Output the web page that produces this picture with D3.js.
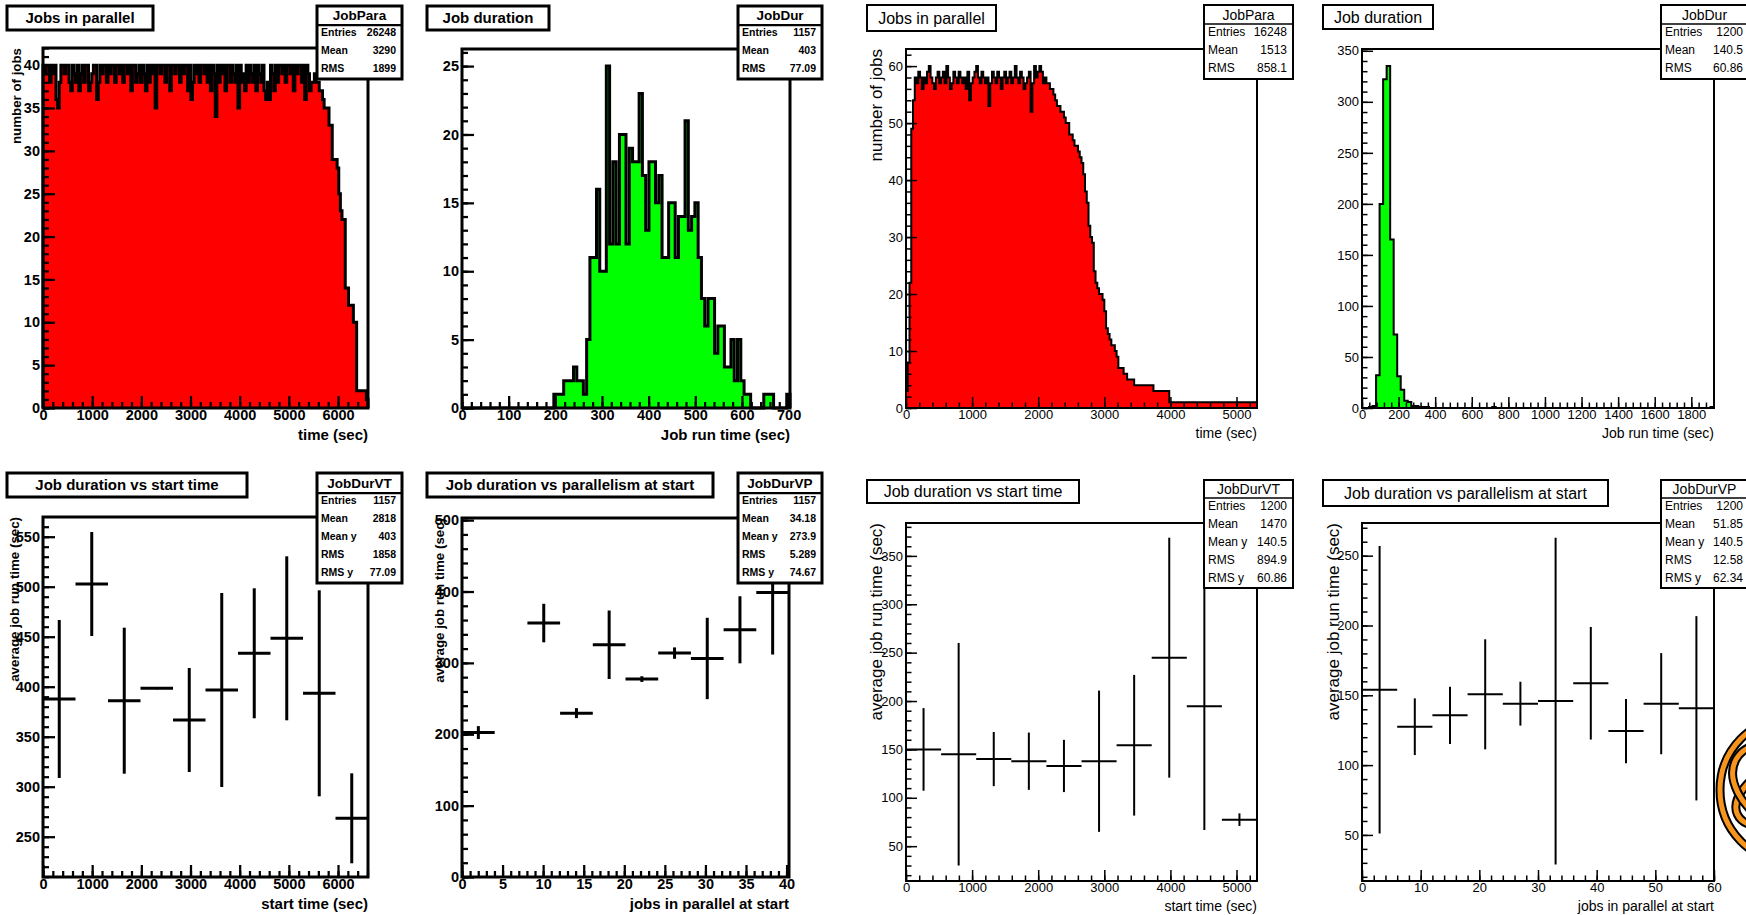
<!DOCTYPE html>
<html>
<head>
<meta charset="utf-8">
<script src="https://cdnjs.cloudflare.com/ajax/libs/d3/7.8.5/d3.min.js"></script>
<style>
body{margin:0;background:#fff;}
svg{display:block;}
</style>
</head>
<body>
<svg id="canvas" width="1746" height="915"></svg>
<script>
// ---- left canvas (old run) ----
const leftParaCounts = [
 40,39,40,40,38,40,39,40,36,35, 38,40,40,39,40,40,38,37,40,39,
 38,40,37,39,40,38,40,40,37,38, 39,40,40,36,38,40,39,40,40,38,
 40,39,40,40,38,40,40,39,40,38, 40,40,39,40,37,40,40,38,39,40,
 38,40,39,37,40,38,40,39,40,35, 40,40,39,40,40,38,40,40,37,40,
 40,39,40,40,38,40,39,40,40,37, 40,36,38,40,39,40,38,40,40,39,
 40,38,40,37,40,39,34,40,38,40, 39,40,37,40,40,38,40,39,38,40,
 35,40,38,39,37,40,38,40,39,38, 40,37,40,39,38,40,37,36,38,36,
 40,39,37,40,38,40,40,39,40,38, 40,40,39,40,37,40,39,40,40,38,
 40,36,40,39,37,38,38,39,38,38, 37,37,36,35,35,35,33,33,29,29,
 29,28,25,23,22,22,14,14,12,12, 12,10,10,2,2,2,2,2,2,1
];
const leftDurCounts = [
 0,0,0,0,0,0,0,0,0,0, 0,0,0,0,0,0,0,0,0,0,
 0,0,0,0,0,0,0,0,1,1, 1,2,2,2,3,2,2,1,5,11,
 11,16,10,10,25,12,18,12,20,20, 12,19,18,18,23,17,13,18,18,15,
 17,11,11,15,15,11,14,14,21,13, 14,15,11,8,6,8,8,4,6,6,
 3,3,5,2,5,2,1,1,0,0, 0,0,1,1,1,0,0,0,0,1
];
const leftVTMeans = [387.7, 502.7, 386, 398.4, 366.7, 396.7, 433.4, 448.4, 393.4, 268.4];
const leftVTErrs  = [79, 52, 73, 1, 52, 97, 65, 82, 103, 45];
const leftVPMeans = [202.4, null, 355.8, 229.6, 325.4, 277.3, 313.7, 306.2, 346.4, 398.7];
const leftVPErrs  = [9, null, 27, 7, 48, 4, 8, 57, 47, 87];

// ---- right canvas (new run) ----
const rightParaCounts = [
 3,8,22,49,54,58,57,59,58,56, 58,57,59,60,58,57,56,58,59,57,
 58,59,57,60,58,56,57,59,58,57, 59,58,57,58,56,59,54,57,58,59,
 60,58,57,59,58,57,58,53,57,59, 58,57,59,58,56,58,59,57,58,59,
 57,58,60,58,57,59,58,56,57,58, 59,52,57,60,58,59,60,59,57,58,
 57,57,56,56,55,54,53,53,52,52, 51,50,50,48,48,47,46,46,45,44,
 43,41,38,36,32,30,29,24,22,21, 20,20,19,17,14,13,12,11,11,10,
 9,7,7,7,6,6,5,5,5,5, 4,4,4,4,4,4,4,4,4,4,
 4,3,3,3,3,3,3,3,3,3, 1,1,1,1,1,1,1,1,1,1,
 1,1,1,1,1,1,1,1,1,1, 1,1,1,1,1,1,1,1,1,1,
 1,1,1,1,1,1,1,1,1,1, 1,1,1,1,1,1,1,1,1,1
];
const rightDurCounts = [
 0,0,1,2,32,200,322,335,165,72, 31,18,7,6,2,2,1,1,1,0,
 0,0,0,0,0,0,0,0,0,0, 0,0,0,0,0,0,0,1,0,0,
 0,0,0,0,0,0,0,0,0,0, 0,0,0,0,0,0,0,0,0,0,
 0,0,0,0,0,0,0,0,0,0, 0,0,0,0,0,0,0,0,0,0,
 0,0,0,0,0,0,0,0,0,0, 0,0,0,0,0,0,0,0,0,1
];
const rightVTMeans = [150, 145, 140, 137.8, 132.9, 137.8, 154.3, 244.8, 194.7, 77.4];
const rightVTErrs  = [42.7, 115, 28, 29.6, 27, 73, 72.7, 124, 128, 6.5];
const rightVPMeans = [154, 127.5, 135.7, 150.7, 144, 145.9, 158.6, 124.4, 144, 140.7];
const rightVPErrs  = [103, 20.3, 20.5, 39.4, 15.7, 117, 40.3, 23, 36.2, 66];

// ---- stats boxes ----
const histStatNames = ["Entries", "Mean", "RMS"];
const profStatNames = ["Entries", "Mean", "Mean y", "RMS", "RMS y"];
const leftParaStats  = ["26248", "3290", "1899"];
const leftDurStats   = ["1157", "403", "77.09"];
const leftVTStats    = ["1157", "2818", "403", "1858", "77.09"];
const leftVPStats    = ["1157", "34.18", "273.9", "5.289", "74.67"];
const rightParaStats = ["16248", "1513", "858.1"];
const rightDurStats  = ["1200", "140.5", "60.86"];
const rightVTStats   = ["1200", "1470", "140.5", "894.9", "60.86"];
const rightVPStats   = ["1200", "51.85", "140.5", "12.58", "62.34"];

const FONT = '"Liberation Sans", Arial, Helvetica, sans-serif';
const OLD = {weight:'bold', lw:3, hlw:3, tick:12, tickFont:14.5, titleFont:15, xtFont:15, ytFont:13.3, statFont:10.5, headFont:13.5, xtGap:32, ebw:3};
const NEW = {weight:'normal', lw:2, hlw:2, tick:11, tickFont:13, titleFont:16, xtFont:14, ytFont:17, statFont:12, headFont:14, xtGap:30, ebw:2};

var svg = d3.select('#canvas');
svg.append('rect').attr('width',1746).attr('height',915).attr('fill','#fff');

var makePanel = function(cfg){
    var f = cfg.frame;
    var st = cfg.old ? OLD : NEW;
    var x = d3.scaleLinear().domain(cfg.xDomain).range([f[0], f[2]]);
    var y = d3.scaleLinear().domain(cfg.yDomain).range([f[3], f[1]]);
    var g = svg.append('g');
    var plot = g.append('g');
    return {cfg:cfg, st:st, x:x, y:y, g:g, plot:plot};
};

var ticksFor = function(domain, step){
    var start = Math.ceil(domain[0]/step - 1e-9)*step;
    return d3.range(start, domain[1] + step*1e-6, step);
};

var drawAxes = function(p){
    var c = p.cfg, st = p.st, f = c.frame;
    var style = function(sel){
        sel.attr('font-family', FONT).attr('font-size', st.tickFont)
           .attr('font-weight', st.weight).attr('color', '#000');
        sel.select('.domain').remove();
        sel.selectAll('line').attr('stroke-width', st.lw*0.75);
    };
    p.g.append('g').attr('transform', 'translate(0,'+f[3]+')')
        .call(d3.axisBottom(p.x).tickValues(ticksFor(c.xDomain, c.xMinor)).tickSize(-st.tick/2).tickFormat(''))
        .call(style);
    p.g.append('g').attr('transform', 'translate(0,'+f[3]+')')
        .call(d3.axisBottom(p.x).tickValues(ticksFor(c.xDomain, c.xMajor)).tickSize(-st.tick).tickPadding(2).tickFormat(d3.format('d')))
        .call(style);
    p.g.append('g').attr('transform', 'translate('+f[0]+',0)')
        .call(d3.axisLeft(p.y).tickValues(ticksFor(c.yDomain, c.yMinor)).tickSize(-st.tick/2).tickFormat(''))
        .call(style);
    p.g.append('g').attr('transform', 'translate('+f[0]+',0)')
        .call(d3.axisLeft(p.y).tickValues(ticksFor(c.yDomain, c.yMajor)).tickSize(-st.tick).tickPadding(3).tickFormat(d3.format('d')))
        .call(style);
    // frame
    p.g.append('rect')
        .attr('x', f[0]).attr('y', f[1]).attr('width', f[2]-f[0]).attr('height', f[3]-f[1])
        .attr('fill', 'none').attr('stroke', '#000').attr('stroke-width', st.lw);
    // axis titles
    p.g.append('text')
        .attr('x', f[2]).attr('y', f[3]+st.xtGap)
        .attr('text-anchor', 'end').attr('font-family', FONT)
        .attr('font-size', st.xtFont).attr('font-weight', st.weight)
        .text(c.xTitle);
    if(c.yTitle){
        p.g.append('text')
            .attr('transform', 'translate('+c.yTitleX+','+f[1]+') rotate(-90)')
            .attr('text-anchor', 'end').attr('font-family', FONT)
            .attr('font-size', st.ytFont).attr('font-weight', st.weight)
            .text(c.yTitle);
    }
};

var drawBoxes = function(p){
    var c = p.cfg, st = p.st;
    var tb = c.titleBox;
    p.g.append('rect').attr('x', tb[0]).attr('y', tb[1]).attr('width', tb[2]-tb[0]).attr('height', tb[3]-tb[1])
        .attr('fill', '#fff').attr('stroke', '#000').attr('stroke-width', st.lw);
    p.g.append('text')
        .attr('x', (tb[0]+tb[2])/2).attr('y', (tb[1]+tb[3])/2)
        .attr('dy', '0.36em').attr('text-anchor', 'middle')
        .attr('font-family', FONT).attr('font-size', st.titleFont).attr('font-weight', st.weight)
        .text(c.title);
    var sb = c.statBox, hl = c.statHead;
    p.g.append('rect').attr('x', sb[0]).attr('y', sb[1]).attr('width', sb[2]-sb[0]).attr('height', sb[3]-sb[1])
        .attr('fill', '#fff').attr('stroke', '#000').attr('stroke-width', st.lw);
    p.g.append('line').attr('x1', sb[0]).attr('x2', sb[2]).attr('y1', hl).attr('y2', hl)
        .attr('stroke', '#000').attr('stroke-width', st.lw*0.75);
    p.g.append('text')
        .attr('x', (sb[0]+Math.min(sb[2],1746))/2 + (sb[2] > 1746 ? 1 : 0)).attr('y', (sb[1]+hl)/2)
        .attr('dy', '0.36em').attr('text-anchor', 'middle')
        .attr('font-family', FONT).attr('font-size', st.headFont).attr('font-weight', st.weight)
        .text(c.statName);
    var n = c.statLabels.length;
    var rowH = (sb[3]-hl)/n;
    c.statLabels.forEach(function(lab, i){
        var cy = hl + (i+0.4)*rowH;
        p.g.append('text').attr('x', sb[0]+4).attr('y', cy).attr('dy', '0.36em')
            .attr('font-family', FONT).attr('font-size', st.statFont).attr('font-weight', st.weight)
            .text(lab);
        p.g.append('text').attr('x', Math.min(sb[2], 1749)-6).attr('y', cy).attr('dy', '0.36em')
            .attr('text-anchor', 'end')
            .attr('font-family', FONT).attr('font-size', st.statFont).attr('font-weight', st.weight)
            .text(c.statValues[i]);
    });
};

var drawHisto = function(p, counts, fill){
    var d = p.cfg.xDomain, n = counts.length, w = (d[1]-d[0])/n;
    var pts = [[d[0], 0]];
    counts.forEach(function(v, i){
        pts.push([d[0]+i*w, v]);
        pts.push([d[0]+(i+1)*w, v]);
    });
    pts.push([d[1], 0]);
    var line = d3.line().x(function(q){return p.x(q[0]);}).y(function(q){return p.y(q[1]);});
    p.plot.append('path').attr('d', line(pts)+'Z').attr('fill', fill).attr('stroke', 'none');
    p.plot.append('path').attr('d', line(pts)).attr('fill', 'none')
        .attr('stroke', '#000').attr('stroke-width', p.st.hlw).attr('stroke-linejoin', 'miter');
};

var drawProfile = function(p, means, errs){
    var d = p.cfg.xDomain, n = means.length, w = (d[1]-d[0])/n;
    means.forEach(function(m, i){
        if(m === null) return;
        var lo = d[0]+i*w, hi = lo+w, mid = lo+w/2;
        var yd = p.y.domain();
        p.plot.append('line')
            .attr('x1', p.x(lo)).attr('x2', p.x(hi)).attr('y1', p.y(m)).attr('y2', p.y(m))
            .attr('stroke', '#000').attr('stroke-width', p.st.ebw);
        p.plot.append('line')
            .attr('x1', p.x(mid)).attr('x2', p.x(mid))
            .attr('y1', p.y(Math.max(yd[0], m-errs[i]))).attr('y2', p.y(Math.min(yd[1], m+errs[i])))
            .attr('stroke', '#000').attr('stroke-width', p.st.ebw);
    });
};

var panels = [
  {old:true, frame:[43,48,368,408], xDomain:[0,6610], yDomain:[0,42], xMajor:1000, xMinor:200, yMajor:5, yMinor:1,
   title:"Jobs in parallel", titleBox:[7,6,153,30], statBox:[317,6,402,79], statHead:25, statName:"JobPara",
   statLabels:histStatNames, statValues:leftParaStats, xTitle:"time (sec)", yTitle:"number of jobs", yTitleX:21,
   kind:'histo', counts:leftParaCounts, fill:'#ff0000'},
  {old:true, frame:[462,49,790,408], xDomain:[0,703], yDomain:[0,26.25], xMajor:100, xMinor:20, yMajor:5, yMinor:1,
   title:"Job duration", titleBox:[427,6,549,30], statBox:[738,6,822,79], statHead:25, statName:"JobDur",
   statLabels:histStatNames, statValues:leftDurStats, xTitle:"Job run time (sec)", yTitle:null,
   kind:'histo', counts:leftDurCounts, fill:'#00ff00'},
  {old:false, frame:[906,49,1257,408], xDomain:[0,5310], yDomain:[0,63], xMajor:1000, xMinor:200, yMajor:10, yMinor:2,
   title:"Jobs in parallel", titleBox:[867,5,996,31], statBox:[1204,5,1293,79], statHead:24, statName:"JobPara",
   statLabels:histStatNames, statValues:rightParaStats, xTitle:"time (sec)", yTitle:"number of jobs", yTitleX:882,
   kind:'histo', counts:rightParaCounts, fill:'#ff0000'},
  {old:false, frame:[1362,49,1714,408], xDomain:[0,1924], yDomain:[0,351.75], xMajor:200, xMinor:40, yMajor:50, yMinor:10,
   title:"Job duration", titleBox:[1323,5,1433,29], statBox:[1661,5,1749,79], statHead:24, statName:"JobDur",
   statLabels:histStatNames, statValues:rightDurStats, xTitle:"Job run time (sec)", yTitle:null,
   kind:'histo', counts:rightDurCounts, fill:'#00ff00'},
  {old:true, frame:[43,517,368,877], xDomain:[0,6610], yDomain:[209.7,569.7], xMajor:1000, xMinor:200, yMajor:50, yMinor:10,
   title:"Job duration vs start time", titleBox:[7,473,247,497], statBox:[317,473,402,583], statHead:493, statName:"JobDurVT",
   statLabels:profStatNames, statValues:leftVTStats, xTitle:"start time (sec)", yTitle:"average job run time (sec)", yTitleX:19,
   kind:'prof', means:leftVTMeans, errs:leftVTErrs},
  {old:true, frame:[462,518,789,877], xDomain:[0,40.3], yDomain:[0,503], xMajor:5, xMinor:1, yMajor:100, yMinor:20,
   title:"Job duration vs parallelism at start", titleBox:[427,473,713,497], statBox:[738,473,822,583], statHead:493, statName:"JobDurVP",
   statLabels:profStatNames, statValues:leftVPStats, xTitle:"jobs in parallel at start", yTitle:"average job run time (sec)", yTitleX:444,
   kind:'prof', means:leftVPMeans, errs:leftVPErrs},
  {old:false, frame:[906,523,1257,881], xDomain:[0,5310], yDomain:[14,384], xMajor:1000, xMinor:200, yMajor:50, yMinor:10,
   title:"Job duration vs start time", titleBox:[867,480,1079,503], statBox:[1204,480,1293,588], statHead:498, statName:"JobDurVT",
   statLabels:profStatNames, statValues:rightVTStats, xTitle:"start time (sec)", yTitle:"average job run time (sec)", yTitleX:882,
   kind:'prof', means:rightVTMeans, errs:rightVTErrs},
  {old:false, frame:[1362,523,1714,881], xDomain:[0,60], yDomain:[17,273.4], xMajor:10, xMinor:2, yMajor:50, yMinor:10,
   title:"Job duration vs parallelism at start", titleBox:[1323,480,1608,506], statBox:[1661,480,1749,588], statHead:498, statName:"JobDurVP",
   statLabels:profStatNames, statValues:rightVPStats, xTitle:"jobs in parallel at start", yTitle:"average job run time (sec)", yTitleX:1339,
   kind:'prof', means:rightVPMeans, errs:rightVPErrs}
];

panels.forEach(function(cfg){
    var p = makePanel(cfg);
    if(cfg.kind === 'histo') drawHisto(p, cfg.counts, cfg.fill);
    else drawProfile(p, cfg.means, cfg.errs);
    drawAxes(p);
    drawBoxes(p);
});

// partial orange logo peeking in at the lower right edge
var logo = svg.append('g');
[[1790,790,70,72,0],[1790,790,58,30,-25],[1790,790,62,40,30]].forEach(function(e){
    logo.append('ellipse').attr('cx',e[0]).attr('cy',e[1]).attr('rx',e[2]).attr('ry',e[3])
        .attr('transform','rotate('+e[4]+','+e[0]+','+e[1]+')')
        .attr('fill','none').attr('stroke','#000').attr('stroke-width',9);
    logo.append('ellipse').attr('cx',e[0]).attr('cy',e[1]).attr('rx',e[2]).attr('ry',e[3])
        .attr('transform','rotate('+e[4]+','+e[0]+','+e[1]+')')
        .attr('fill','none').attr('stroke','#f7941d').attr('stroke-width',5);
});
</script>
</body>
</html>
